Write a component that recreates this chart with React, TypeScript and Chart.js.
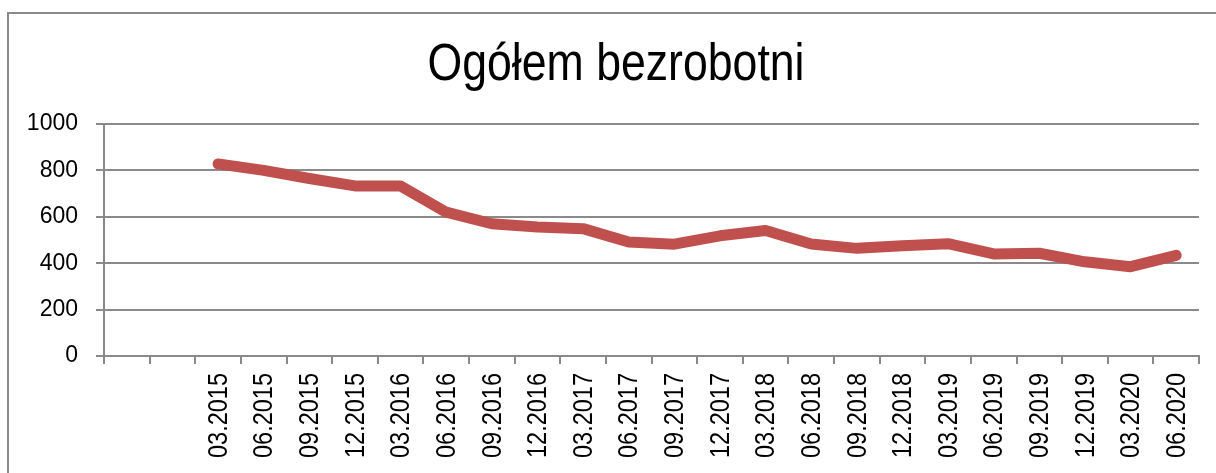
import React, { useEffect, useRef } from "react";
import { Chart, registerables } from "chart.js";

Chart.register(...registerables);

const TITLE = "Ogółem bezrobotni";
const categories: string[] = [
  "", "",
  "03.2015", "06.2015", "09.2015", "12.2015",
  "03.2016", "06.2016", "09.2016", "12.2016",
  "03.2017", "06.2017", "09.2017", "12.2017",
  "03.2018", "06.2018", "09.2018", "12.2018",
  "03.2019", "06.2019", "09.2019", "12.2019",
  "03.2020", "06.2020",
];
const unemployed: (number | null)[] = [
  null, null,
  828, 800, 765, 733,
  733, 620, 570, 556,
  549, 491, 482, 518,
  541, 483, 464, 475,
  484, 440, 443, 406,
  385, 434,
];
const yTicks: number[] = [0, 200, 400, 600, 800, 1000];

const FONT = "'Liberation Sans', Arial, sans-serif";
const GRID = "#8a8a8a";

// Draws condensed (narrow) text: title and rotated category labels.
const narrowTextPlugin = {
  id: "narrowText",
  afterDraw(chart: any) {
    const ctx = chart.ctx as CanvasRenderingContext2D;
    // title
    ctx.save();
    ctx.fillStyle = "#000";
    ctx.font = `51px ${FONT}`;
    ctx.textAlign = "center";
    ctx.textBaseline = "alphabetic";
    ctx.translate(616, 80);
    ctx.scale(0.875, 1);
    ctx.fillText(TITLE, 0, 0);
    ctx.restore();

    // x category labels, rotated
    const xs = chart.scales.x;
    ctx.save();
    ctx.fillStyle = "#000";
    ctx.font = `28px ${FONT}`;
    ctx.textAlign = "right";
    ctx.textBaseline = "middle";
    const yStart = xs.top + 17;
    categories.forEach((lab, i) => {
      if (!lab) return;
      const x = xs.getPixelForTick(i);
      ctx.save();
      ctx.translate(x + 1, yStart);
      ctx.rotate(-Math.PI / 2);
      ctx.scale(0.84, 1);
      ctx.fillText(lab, 0, 0);
      ctx.restore();
    });
    ctx.restore();
  },
};

export default function App() {
  const ref = useRef<HTMLCanvasElement | null>(null);

  useEffect(() => {
    if (!ref.current) return;
    const chart = new Chart(ref.current, {
      type: "line",
      data: {
        labels: categories,
        datasets: [
          {
            label: TITLE,
            data: unemployed,
            borderColor: "#C0504D",
            backgroundColor: "#C0504D",
            borderWidth: 11,
            borderCapStyle: "round",
            borderJoinStyle: "round",
            pointRadius: 0,
            tension: 0,
            spanGaps: false,
          },
        ],
      },
      plugins: [narrowTextPlugin],
      options: {
        animation: false,
        responsive: false,
        maintainAspectRatio: false,
        layout: { padding: { left: 0, right: 17, top: 124, bottom: 0 } },
        plugins: {
          legend: { display: false },
          tooltip: { enabled: false },
          title: { display: false },
        },
        scales: {
          x: {
            type: "category",
            offset: true,
            grid: {
              offset: true,
              drawOnChartArea: false,
              drawTicks: true,
              tickLength: 8,
              color: GRID,
              lineWidth: 2,
            },
            border: { display: true, color: GRID, width: 2 },
            ticks: {
              display: false,
              autoSkip: false,
            },
            afterFit: (scale: any) => {
              scale.height = 117;
            },
          },
          y: {
            min: 0,
            max: 1000,
            afterBuildTicks: (scale: any) => {
              scale.ticks = yTicks.map((v) => ({ value: v }));
            },
            grid: {
              color: GRID,
              lineWidth: 2,
              drawTicks: true,
              tickLength: 8,
            },
            border: { display: true, color: GRID, width: 2 },
            ticks: {
              padding: 18,
              color: "#000",
              font: { family: FONT, size: 23 },
              callback: (v: any) => String(v),
            },
            afterFit: (scale: any) => {
              scale.width = 104;
            },
          },
        },
      },
    });
    return () => chart.destroy();
  }, []);

  return (
    <div style={{ position: "fixed", left: 0, top: 0, width: 1216, height: 473, background: "#fff" }}>
      <div
        style={{
          position: "absolute",
          left: 7,
          top: 12,
          width: 1230,
          height: 480,
          borderLeft: `2px solid ${GRID}`,
          borderTop: `2px solid ${GRID}`,
        }}
      />
      <canvas ref={ref} width={1216} height={473} style={{ position: "absolute", left: 0, top: 0, width: 1216, height: 473 }} />
    </div>
  );
}
